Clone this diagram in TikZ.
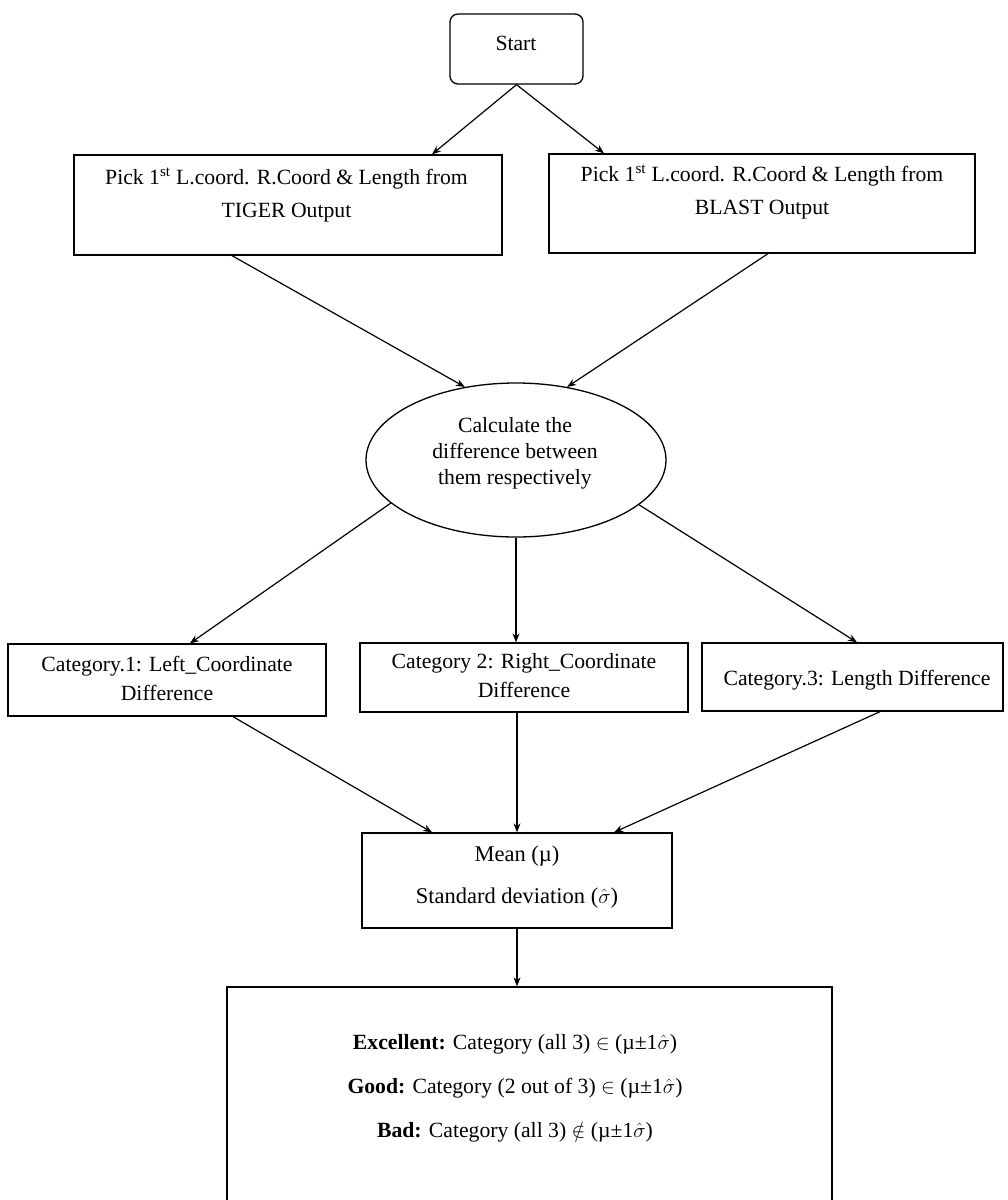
\documentclass[tikz,border=0pt]{standalone}
\usepackage{fontspec}
\setmainfont{Liberation Serif}
\usetikzlibrary{shapes.geometric,arrows.meta}
\begin{document}
\begin{tikzpicture}[
  x=1pt,y=1pt,
  box/.style={draw, line width=1.3pt, rectangle, inner sep=0pt},
  lbl/.style={align=center, inner sep=0pt, font=\fontsize{21.7}{33}\selectfont},
  arr/.style={-{Stealth[length=9pt,width=7pt]}, line width=1.2pt},
]
\useasboundingbox (0,0) rectangle (1008,-1200);

% ---- shapes ----
\node[box, rounded corners=8pt, minimum width=133pt, minimum height=70pt] (start) at (516.5,-49) {};
\node[box, minimum width=428pt, minimum height=100pt] (tiger) at (288,-205) {};
\node[box, minimum width=426pt, minimum height=99pt] (blast) at (762,-203.5) {};
\node[draw, line width=1.3pt, ellipse, inner sep=0pt, minimum width=300pt, minimum height=154pt] (calc) at (516,-460) {};
\node[box, minimum width=318pt, minimum height=72pt] (cat1) at (167,-680) {};
\node[box, minimum width=328pt, minimum height=69pt] (cat2) at (524,-677.5) {};
\node[box, minimum width=301pt, minimum height=68pt] (cat3) at (852.5,-677) {};
\node[box, minimum width=310pt, minimum height=95pt] (mean) at (517,-880.5) {};
\node[box, minimum width=605pt, minimum height=230pt] (final) at (529.5,-1102) {};

% ---- texts ----
\node[lbl] (starttext) at (516,-43) {Start};
\node[lbl] (tigertext) at (286.5,-195) {Pick 1\textsuperscript{st} L.coord. R.Coord \& Length from\\TIGER Output};
\node[lbl] (blasttext) at (762,-192) {Pick 1\textsuperscript{st} L.coord. R.Coord \& Length from\\BLAST Output};
\node[lbl, font=\fontsize{21.7}{26}\selectfont] (calctext) at (515,-453) {Calculate the\\difference between\\them respectively};
\node[lbl, font=\fontsize{21.7}{29}\selectfont] (cat1text) at (167,-678) {Category.1: Left\_Coordinate\\Difference};
\node[lbl, font=\fontsize{21.7}{29}\selectfont] (cat2text) at (524,-676) {Category 2: Right\_Coordinate\\Difference};
\node[lbl] (cat3text) at (857,-680) {Category.3: Length Difference};
\node[lbl, font=\fontsize{22.5}{42}\selectfont] (meantext) at (517,-877) {Mean (µ)\\Standard deviation ($\hat{\sigma}$)};
\node[lbl, font=\fontsize{21.7}{44}\selectfont] (finaltext) at (515,-1088) {%
  \textbf{Excellent:} Category (all 3) $\in$ (µ±1$\hat{\sigma}$)\\
  \textbf{Good:} Category (2 out of 3) $\in$ (µ±1$\hat{\sigma}$)\\
  \textbf{Bad:} Category (all 3) $\notin$ (µ±1$\hat{\sigma}$)};

% ---- connectors ----
\draw[arr] (start.south) -- ([xshift=144pt]tiger.north);
\draw[arr] (start.south) -- ([xshift=-158pt]blast.north);
\draw[arr] ([xshift=-56pt]tiger.south) -- (calc.125);
\draw[arr] ([xshift=6pt]blast.south) -- (calc.55);
\draw[arr] (calc.199) -- ([xshift=23pt]cat1.north);
\draw[arr] (calc.south) -- (cat2.north -| calc.south);
\draw[arr] (calc.340) -- ([xshift=4.5pt]cat3.north);
\draw[arr] ([xshift=66pt]cat1.south) -- ([xshift=-85pt]mean.north);
\draw[arr] (cat2.south -| mean.north) -- (mean.north);
\draw[arr] ([xshift=27.5pt]cat3.south) -- ([xshift=97pt]mean.north);
\draw[arr] (mean.south) -- (final.north -| mean.south);
\end{tikzpicture}
\end{document}
